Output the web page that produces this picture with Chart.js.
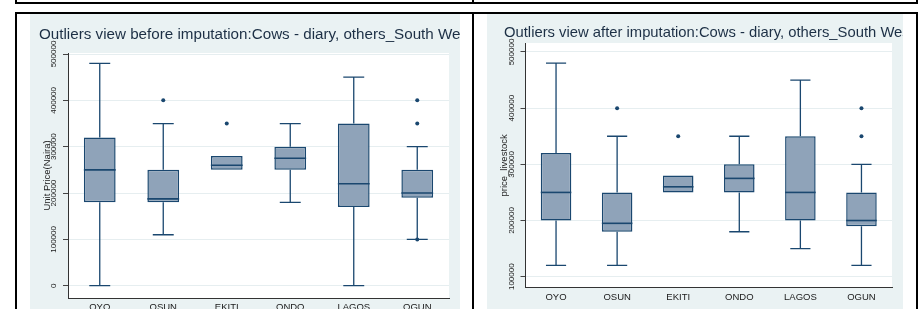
<!DOCTYPE html>
<html>
<head>
<meta charset="utf-8">
<script src="https://cdn.jsdelivr.net/npm/chart.js@4.4.1/dist/chart.umd.min.js"></script>
<style>
  body { margin: 0; width: 919px; height: 309px; overflow: hidden; background: #fff; position: relative; }
  .rule { position: absolute; background: #000; }
  .panel { position: absolute; top: 14px; height: 295px; background: #eaf2f3; overflow: hidden; }
  canvas { position: absolute; left: 0; top: 0; }
</style>
</head>
<body>
<div class="rule" style="left:15px;top:1.5px;width:903px;height:2px"></div>
<div class="rule" style="left:15px;top:0;width:2px;height:3px"></div>
<div class="rule" style="left:472px;top:0;width:2px;height:3px"></div>
<div class="rule" style="left:916px;top:0;width:2px;height:3px"></div>
<div class="rule" style="left:15px;top:12px;width:903px;height:2px"></div>
<div class="rule" style="left:15px;top:12px;width:2px;height:297px"></div>
<div class="rule" style="left:472px;top:12px;width:2px;height:297px"></div>
<div class="rule" style="left:916px;top:12px;width:2px;height:297px"></div>

<div class="panel" style="left:30px;width:430px"><canvas id="before" width="430" height="310"></canvas></div>
<div class="panel" style="left:487px;width:416px"><canvas id="after" width="416" height="310"></canvas></div>

<script>
const states = ["OYO", "OSUN", "EKITI", "ONDO", "LAGOS", "OGUN"];

// before imputation
const beforeLow  = [0, 110000, 250000, 180000, 0, 100000];
const beforeQ1   = [180000, 180000, 250000, 250000, 170000, 190000];
const beforeMed  = [250000, 187500, 260000, 275000, 220000, 200000];
const beforeQ3   = [320000, 250000, 280000, 300000, 350000, 250000];
const beforeHigh = [480000, 350000, 280000, 350000, 450000, 300000];
const beforeOutState = ["OSUN", "EKITI", "OGUN", "OGUN", "OGUN"];
const beforeOutValue = [400000, 350000, 400000, 350000, 100000];
const beforeTicks = [0, 100000, 200000, 300000, 400000, 500000];

// after imputation
const afterLow  = [120000, 120000, 250000, 180000, 150000, 120000];
const afterQ1   = [200000, 180000, 250000, 250000, 200000, 190000];
const afterMed  = [250000, 195000, 260000, 275000, 250000, 200000];
const afterQ3   = [320000, 250000, 280000, 300000, 350000, 250000];
const afterHigh = [480000, 350000, 280000, 350000, 450000, 300000];
const afterOutState = ["OSUN", "EKITI", "OGUN", "OGUN"];
const afterOutValue = [400000, 350000, 400000, 350000];
const afterTicks = [100000, 200000, 300000, 400000, 500000];

const navy = "#1a476f";
const fontFamily = '"Liberation Sans", Arial, sans-serif';

// white plot region, whiskers, medians, rotated y labels and the title (clipped by the panel like the original)
function box_parts (low, med, high, q1, q3, yTicks, yTitle, title, titleBase, titleSize) {
    return {
        id: "boxParts",
        beforeDraw (chart) {
            const { ctx, chartArea: a } = chart;
            ctx.save();
            ctx.fillStyle = "#fff";
            ctx.fillRect(a.left, a.top, a.right - a.left, a.bottom - a.top);
            ctx.restore();
        },
        beforeDatasetsDraw (chart) {
            const { ctx, scales: { y } } = chart;
            const bars = chart.getDatasetMeta(0).data;
            ctx.save();
            ctx.strokeStyle = navy;
            ctx.lineWidth = 1.3;
            bars.forEach((bar, i) => {
                const cap = bar.width * 0.66;
                [[q3[i], high[i]], [q1[i], low[i]]].forEach(([from, to]) => {
                    if (from === to) return;
                    const y0 = y.getPixelForValue(from);
                    const y1 = y.getPixelForValue(to);
                    ctx.beginPath();
                    ctx.moveTo(bar.x, y0);
                    ctx.lineTo(bar.x, y1);
                    ctx.moveTo(bar.x - cap / 2, y1);
                    ctx.lineTo(bar.x + cap / 2, y1);
                    ctx.stroke();
                });
            });
            ctx.restore();
        },
        afterDatasetsDraw (chart) {
            const { ctx, scales: { y } } = chart;
            const bars = chart.getDatasetMeta(0).data;
            ctx.save();
            ctx.strokeStyle = navy;
            ctx.lineWidth = 1.6;
            bars.forEach((bar, i) => {
                const py = y.getPixelForValue(med[i]);
                ctx.beginPath();
                ctx.moveTo(bar.x - bar.width / 2, py);
                ctx.lineTo(bar.x + bar.width / 2, py);
                ctx.stroke();
            });
            ctx.restore();
        },
        afterDraw (chart) {
            const { ctx, scales: { y } } = chart;
            ctx.save();
            ctx.fillStyle = "#1c2f45";
            ctx.textAlign = "left";
            ctx.textBaseline = "alphabetic";
            ctx.font = titleSize + "px " + fontFamily;
            ctx.fillText(title, y.left, titleBase);

            ctx.fillStyle = "#1a1a1a";
            ctx.textAlign = "center";
            ctx.textBaseline = "middle";
            ctx.font = "8px " + fontFamily;
            yTicks.forEach(v => {
                ctx.save();
                ctx.translate(y.right - 14, y.getPixelForValue(v));
                ctx.rotate(-Math.PI / 2);
                ctx.fillText(String(v), 0, 0);
                ctx.restore();
            });
            ctx.font = "9.5px " + fontFamily;
            ctx.translate(y.right - 21, (y.top + y.bottom) / 2);
            ctx.rotate(-Math.PI / 2);
            ctx.fillText(yTitle, 0, 0);
            ctx.restore();
        }
    };
}

function box_chart (id, s, layout) {
    return new Chart(document.getElementById(id), {
        type: "bar",
        data: {
            labels: states,
            datasets: [
                {
                    data: s.q1.map((v, i) => [v, s.q3[i]]),
                    backgroundColor: "#8fa3b9",
                    borderColor: navy,
                    borderWidth: 1.5,
                    borderSkipped: false,
                    barPercentage: 0.5,
                    categoryPercentage: 1,
                },
                {
                    type: "line",
                    data: s.outState.map((st, i) => ({ x: st, y: s.outValue[i] })),
                    showLine: false,
                    pointRadius: 2,
                    pointBorderWidth: 0,
                    pointBackgroundColor: navy,
                },
            ],
        },
        options: {
            responsive: false,
            animation: false,
            devicePixelRatio: 1,
            layout: { padding: { left: layout.padLeft, right: 11, top: layout.padTop, bottom: 0 } },
            plugins: {
                legend: { display: false },
                tooltip: { enabled: false },
            },
            scales: {
                x: {
                    afterFit: a => { a.height = layout.xHeight },
                    grid: { display: false, drawTicks: false },
                    border: { display: true, color: "#333", width: 1 },
                    ticks: { color: "#1a1a1a", padding: 4, font: { family: fontFamily, size: 9.5 } },
                },
                y: {
                    min: layout.min,
                    max: layout.max,
                    afterFit: a => { a.width = layout.yWidth },
                    afterBuildTicks: a => { a.ticks = s.ticks.map(v => ({ value: v })) },
                    grid: { color: "#e6eef0", tickColor: "#444", tickLength: 5, lineWidth: 1 },
                    border: { display: true, color: "#333", width: 1 },
                    ticks: { display: false },
                },
            },
        },
        plugins: [box_parts(s.low, s.med, s.high, s.q1, s.q3, s.ticks, s.yTitle, s.title, layout.titleBase, layout.titleSize)],
    });
}

box_chart("before", {
    title: "Outliers view before imputation:Cows - diary, others_South West",
    yTitle: "Unit Price(Naira)",
    low: beforeLow, q1: beforeQ1, med: beforeMed, q3: beforeQ3, high: beforeHigh,
    outState: beforeOutState, outValue: beforeOutValue, ticks: beforeTicks,
}, { padLeft: 9, yWidth: 29, padTop: 39, titleBase: 25, titleSize: 15.2, xHeight: 26, min: -26500, max: 502200 });

box_chart("after", {
    title: "Outliers view after imputation:Cows - diary, others_South West",
    yTitle: "price_livestock",
    low: afterLow, q1: afterQ1, med: afterMed, q3: afterQ3, high: afterHigh,
    outState: afterOutState, outValue: afterOutValue, ticks: afterTicks,
}, { padLeft: 17, yWidth: 21.5, padTop: 29, titleBase: 23, titleSize: 14.8, xHeight: 36.3, min: 80400, max: 516000 });
</script>
</body>
</html>
